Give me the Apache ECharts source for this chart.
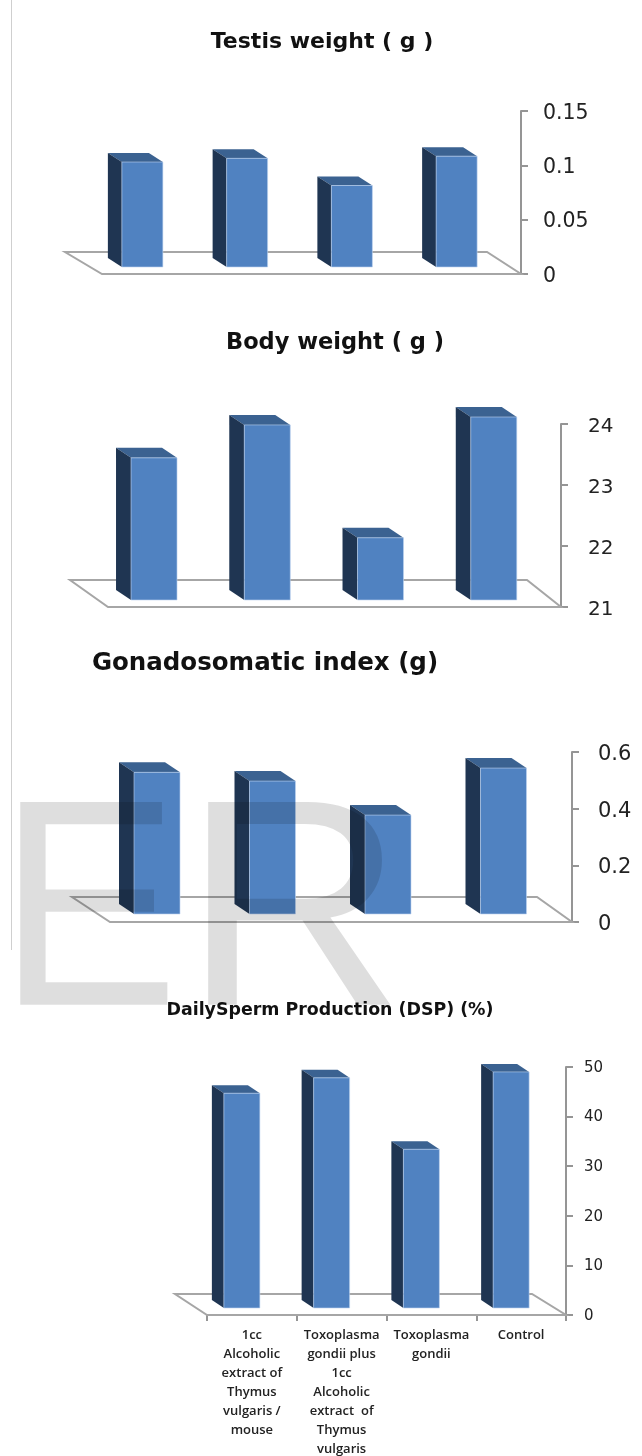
<!DOCTYPE html>
<html><head><meta charset="utf-8">
<style>html,body{margin:0;padding:0;background:#fff}#c{width:642px;height:1456px}</style>
<script src="https://cdn.jsdelivr.net/npm/echarts@6/dist/echarts.min.js"></script>
</head><body><div id="c"></div>
<script>
const categories = ["1cc\nAlcoholic\nextract of\nThymus\nvulgaris /\nmouse","Toxoplasma\ngondii plus\n1cc\nAlcoholic\nextract  of\nThymus\nvulgaris","Toxoplasma\ngondii","Control"];
const testisWeight = [0.0966, 0.1, 0.075, 0.102];
const bodyWeight = [23.33, 23.87, 22.02, 24.0];
const gonadosomaticIndex = [0.50, 0.469, 0.349, 0.515];
const dailySpermProduction = [43.3, 46.4, 32, 47.6];
const titles = ["Testis weight ( g )","Body weight ( g )","Gonadosomatic index (g)","DailySperm Production (DSP) (%)"];

const FRONT='#5082C1', SIDE='#1F3552', TOP='#3B6291', AXIS='#959595';
const panels = [
 {values:testisWeight,min:0,max:0.15,interval:0.05,left:102,top:111,w:419,h:163,shift:-12,barW:41,dx:14,dy:9,base:7,floorL:37,floorR:34,floorH:22,title:[322,42,22],fs:20.5,margin:22,pad:5},
 {values:bodyWeight,min:21,max:24,interval:1,left:108,top:424,w:453,h:183,shift:-10.6,barW:46,dx:15,dy:10,base:7,floorL:38,floorR:34,floorH:27,title:[335,343,22.5],fs:20,margin:27,pad:6},
 {values:gonadosomaticIndex,min:0,max:0.6,interval:0.2,left:110,top:752,w:462,h:170,shift:-10.75,barW:46,dx:15,dy:10,base:8,floorL:38,floorR:35,floorH:25,title:[265,664,24.5],fs:21,margin:26,pad:5},
 {values:dailySpermProduction,min:0,max:50,interval:10,left:207,top:1067,w:359,h:248,shift:-10,barW:36,dx:12,dy:8,base:7,floorL:32,floorR:34,floorH:21,title:[330,1010,17.4],fs:15,margin:18,pad:2}
];
const grid=[],xAxis=[],yAxis=[],series=[],title=[];
panels.forEach((p,k)=>{
  const last=k===3;
  grid.push({left:p.left,top:p.top,width:p.w,height:p.h,outerBoundsMode:'none'});
  xAxis.push({type:'category',gridIndex:k,data:categories,boundaryGap:true,
    axisLine:{show:last,lineStyle:{color:AXIS,width:2}},
    axisTick:{show:last,length:6,alignWithLabel:false,lineStyle:{color:AXIS,width:2}},
    axisLabel:{show:last,interval:0,color:'#222',fontFamily:'Open Sans',fontWeight:600,fontSize:13,lineHeight:19,margin:11}});
  yAxis.push({type:'value',gridIndex:k,position:'right',min:p.min,max:p.max,interval:p.interval,
    splitLine:{show:false},
    axisLine:{show:true,lineStyle:{color:AXIS,width:2}},
    axisTick:{show:true,length:7,lineStyle:{color:AXIS,width:2}},
    axisLabel:{margin:p.margin,formatter:v=>'{a|'+v+'}',
      rich:{a:{color:'#222',fontFamily:'DejaVu Sans',fontSize:p.fs,padding:[p.pad,0,0,0]}}}});
  title.push({text:titles[k],left:p.title[0],top:p.title[1],padding:0,textAlign:'center',textVerticalAlign:'middle',
    textStyle:{fontFamily:'DejaVu Sans',fontWeight:'bold',fontSize:p.title[2],color:'#111'}});
  series.push({type:'custom',xAxisIndex:k,yAxisIndex:k,z:1,silent:true,data:[[0,p.min]],encode:{x:0,y:1},
    renderItem(params,api){
      const y0=api.coord([0,p.min])[1];
      const xl=p.left,xr=p.left+p.w;
      return {type:'polygon',shape:{points:[[xl,y0],[xr,y0],[xr-p.floorR,y0-p.floorH],[xl-p.floorL,y0-p.floorH]]},
        style:{fill:'#fff',stroke:'#a6a6a6',lineWidth:2}};
    }});
  series.push({type:'custom',xAxisIndex:k,yAxisIndex:k,z:2,silent:true,
    data:p.values.map((v,i)=>[i,v]),encode:{x:0,y:1},
    renderItem(params,api){
      const top=api.coord([api.value(0),api.value(1)]);
      const bot=api.coord([api.value(0),p.min]);
      const xc=top[0]+p.shift, l=xc-p.barW/2, r=xc+p.barW/2;
      const yT=top[1]-p.base, yB=bot[1]-p.base;
      return {type:'group',children:[
        {type:'polygon',shape:{points:[[l,yT],[r,yT],[r-p.dx,yT-p.dy],[l-p.dx,yT-p.dy]]},style:{fill:TOP}},
        {type:'polygon',shape:{points:[[l-p.dx,yT-p.dy],[l,yT],[l,yB],[l-p.dx,yB-p.dy]]},style:{fill:SIDE}},
        {type:'rect',shape:{x:l,y:yT,width:p.barW,height:yB-yT},style:{fill:FRONT,stroke:'rgba(190,212,240,0.6)',lineWidth:1}}
      ]};
    }});
});
const chart=echarts.init(document.getElementById('c'),null,{renderer:'canvas'});
chart.setOption({animation:false,backgroundColor:'#fff',title,grid,xAxis,yAxis,series,
 graphic:[
  {type:'line',z:0,shape:{x1:11.5,y1:0,x2:11.5,y2:950},style:{stroke:'#cfcfcf',lineWidth:1}},
  {type:'text',z:50,x:-2,y:1071,scaleX:0.92,style:{text:'E',font:'295px "Liberation Sans"',fill:'rgba(0,0,0,0.13)',verticalAlign:'bottom'}},
  {type:'text',z:50,x:183,y:1071,scaleX:1.04,style:{text:'R',font:'295px "Liberation Sans"',fill:'rgba(0,0,0,0.13)',verticalAlign:'bottom'}}
 ]});
</script></body></html>
